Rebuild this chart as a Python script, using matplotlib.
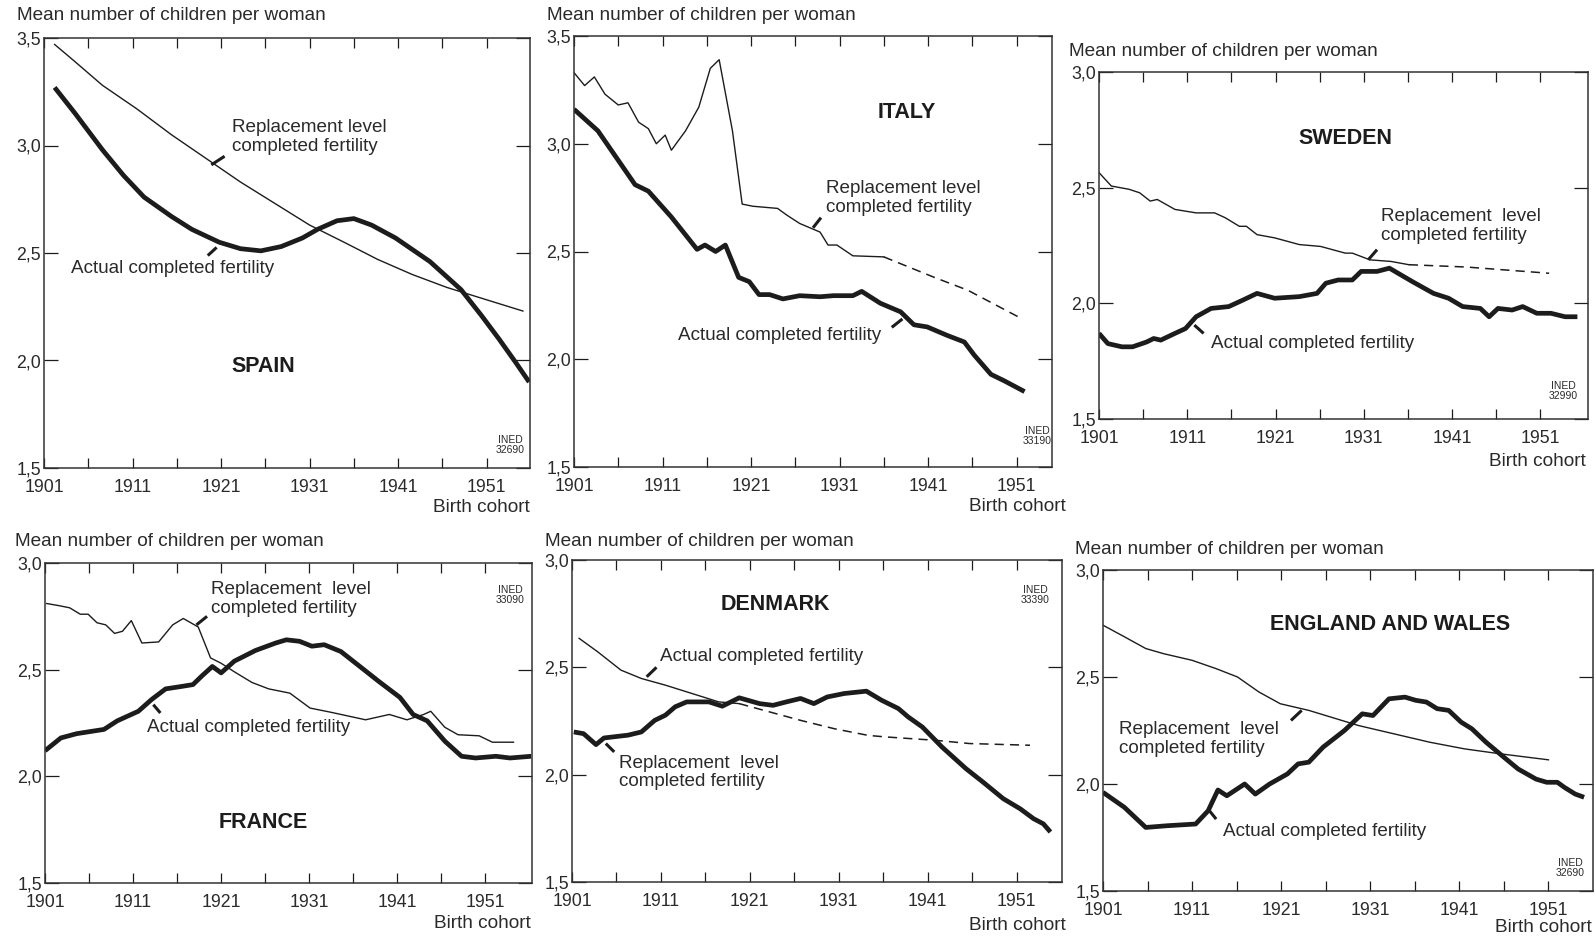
import matplotlib
matplotlib.use("Agg")
import matplotlib.pyplot as plt
from matplotlib.ticker import FixedLocator, FuncFormatter

plt.rcParams["font.family"] = ["Liberation Sans", "DejaVu Sans"]

W, H = 1596, 940
INK = "#1c1c1c"
TXT = "#2a2a2a"

# ---------- data (cohort year, children per woman) ----------

spain_repl_x = [1902.2, 1904.5, 1907.6, 1911.5, 1915.4, 1919.3, 1923.2, 1927.1,
                1931.0, 1934.9, 1938.7, 1942.6, 1946.5, 1950.4, 1955.1]
spain_repl_y = [3.47, 3.39, 3.28, 3.17, 3.05, 2.94, 2.83, 2.73,
                2.63, 2.55, 2.47, 2.40, 2.34, 2.29, 2.23]
spain_act_x = [1902.2, 1904.5, 1907.6, 1910.0, 1912.3, 1915.4, 1917.7, 1920.8,
               1923.2, 1925.5, 1927.8, 1930.2, 1931.9, 1934.1, 1936.0, 1938.0,
               1940.7, 1944.6, 1948.1, 1950.4, 1952.4, 1954.3, 1955.8]
spain_act_y = [3.27, 3.15, 2.98, 2.86, 2.76, 2.67, 2.61, 2.55,
               2.52, 2.51, 2.53, 2.57, 2.61, 2.65, 2.66, 2.63,
               2.57, 2.46, 2.33, 2.21, 2.10, 1.99, 1.90]

italy_repl_x = [1901.0, 1902.2, 1903.3, 1904.5, 1906.0, 1907.1, 1908.3, 1909.4,
                1910.3, 1911.3, 1912.0, 1913.6, 1915.1, 1916.4, 1917.4, 1918.9,
                1920.0, 1921.2, 1924.0, 1925.0, 1926.5, 1928.8, 1929.7, 1930.7,
                1932.5, 1936.0]
italy_repl_y = [3.33, 3.27, 3.31, 3.23, 3.18, 3.19, 3.10, 3.07,
                3.00, 3.04, 2.97, 3.06, 3.17, 3.35, 3.39, 3.06,
                2.72, 2.71, 2.70, 2.67, 2.63, 2.59, 2.53, 2.53,
                2.48, 2.475]
italy_proj_x = [1936.0, 1941.7, 1945.5, 1951.5]
italy_proj_y = [2.475, 2.38, 2.32, 2.19]
italy_act_x = [1901.0, 1903.7, 1907.9, 1909.4, 1912.0, 1914.9, 1915.8, 1917.0,
               1918.1, 1919.6, 1920.8, 1921.9, 1923.1, 1924.6, 1926.5, 1928.8,
               1930.3, 1932.5, 1933.5, 1935.6, 1937.9, 1939.4, 1940.9, 1943.2,
               1945.1, 1946.2, 1948.1, 1949.6, 1951.9]
italy_act_y = [3.16, 3.06, 2.81, 2.78, 2.66, 2.51, 2.53, 2.50,
               2.53, 2.38, 2.36, 2.30, 2.30, 2.28, 2.295, 2.29,
               2.295, 2.295, 2.315, 2.26, 2.22, 2.16, 2.15, 2.11,
               2.08, 2.02, 1.93, 1.90, 1.85]

sweden_repl_x = [1901.0, 1902.4, 1904.4, 1905.6, 1906.8, 1907.6, 1909.6, 1912.0,
                 1914.1, 1915.3, 1916.9, 1917.7, 1918.9, 1920.9, 1923.7, 1926.1,
                 1928.9, 1929.7, 1931.7, 1934.1, 1936.1]
sweden_repl_y = [2.565, 2.507, 2.493, 2.478, 2.442, 2.449, 2.406, 2.391,
                 2.391, 2.37, 2.333, 2.333, 2.297, 2.283, 2.254, 2.246,
                 2.217, 2.217, 2.188, 2.181, 2.167]
sweden_proj_x = [1936.1, 1942.6, 1952.0]
sweden_proj_y = [2.167, 2.157, 2.13]
sweden_act_x = [1901.0, 1902.0, 1903.6, 1904.8, 1906.4, 1907.2, 1908.0, 1909.6,
                1910.8, 1912.0, 1913.7, 1915.7, 1917.3, 1918.9, 1920.9, 1923.7,
                1925.7, 1926.7, 1928.1, 1929.7, 1930.7, 1932.5, 1933.9, 1936.5,
                1938.9, 1940.6, 1942.2, 1944.2, 1945.2, 1946.2, 1947.8, 1949.0,
                1950.6, 1952.2, 1953.8, 1955.2]
sweden_act_y = [1.870, 1.826, 1.812, 1.812, 1.833, 1.848, 1.841, 1.870,
                1.891, 1.942, 1.978, 1.986, 2.014, 2.043, 2.022, 2.029,
                2.043, 2.087, 2.101, 2.101, 2.138, 2.138, 2.152, 2.094,
                2.043, 2.022, 1.986, 1.978, 1.942, 1.978, 1.971, 1.986,
                1.957, 1.957, 1.942, 1.942]

france_repl_x = [1901.2, 1902.6, 1903.8, 1905.0, 1905.9, 1906.9, 1907.9, 1908.9,
                 1909.8, 1910.8, 1912.0, 1913.9, 1915.5, 1916.7, 1918.4, 1919.8,
                 1921.0, 1922.5, 1924.5, 1926.4, 1928.8, 1931.1, 1933.5, 1937.4,
                 1940.1, 1942.1, 1944.0, 1944.8, 1946.4, 1947.9, 1950.3, 1951.8,
                 1954.2]
france_repl_y = [2.81, 2.80, 2.79, 2.76, 2.76, 2.72, 2.71, 2.67,
                 2.68, 2.73, 2.625, 2.63, 2.71, 2.74, 2.70, 2.555,
                 2.53, 2.49, 2.44, 2.41, 2.39, 2.32, 2.30, 2.265,
                 2.29, 2.265, 2.29, 2.305, 2.23, 2.195, 2.19, 2.16,
                 2.16]
france_act_x = [1901.0, 1902.8, 1904.6, 1907.7, 1909.2, 1911.6, 1913.1, 1914.7,
                1916.3, 1917.8, 1918.8, 1920.0, 1921.0, 1922.5, 1924.9, 1927.2,
                1928.4, 1929.9, 1931.3, 1932.7, 1934.6, 1936.6, 1938.9, 1941.3,
                1942.8, 1944.4, 1946.4, 1948.3, 1949.9, 1952.2, 1953.8, 1956.2]
france_act_y = [2.12, 2.18, 2.20, 2.22, 2.26, 2.305, 2.36, 2.41,
                2.42, 2.43, 2.47, 2.515, 2.485, 2.54, 2.59, 2.625,
                2.64, 2.633, 2.61, 2.617, 2.585, 2.52, 2.445, 2.37,
                2.29, 2.26, 2.165, 2.094, 2.086, 2.094, 2.086, 2.094]

denmark_repl_x = [1901.8, 1903.9, 1906.5, 1908.8, 1911.5, 1914.5, 1917.5, 1919.8]
denmark_repl_y = [2.635, 2.572, 2.487, 2.448, 2.417, 2.378, 2.339, 2.331]
denmark_proj_x = [1919.8, 1926.7, 1930.5, 1934.3, 1936.2, 1941.9, 1945.7, 1952.5]
denmark_proj_y = [2.331, 2.253, 2.214, 2.183, 2.176, 2.160, 2.145, 2.137]
denmark_act_x = [1901.2, 1902.3, 1903.7, 1904.6, 1907.3, 1908.8, 1910.3, 1911.5,
                 1912.6, 1913.9, 1916.4, 1917.9, 1919.8, 1922.1, 1923.6, 1925.1,
                 1926.7, 1928.2, 1929.7, 1931.6, 1934.1, 1935.8, 1937.7, 1938.8,
                 1940.4, 1942.6, 1945.3, 1947.2, 1949.5, 1951.4, 1952.9, 1954.0,
                 1954.8]
denmark_act_y = [2.199, 2.191, 2.14, 2.171, 2.184, 2.199, 2.253, 2.277,
                 2.316, 2.339, 2.339, 2.319, 2.358, 2.331, 2.323, 2.339,
                 2.355, 2.331, 2.362, 2.378, 2.389, 2.347, 2.308, 2.269,
                 2.222, 2.129, 2.028, 1.966, 1.888, 1.841, 1.795, 1.771,
                 1.733]

england_repl_x = [1901.0, 1903.4, 1905.8, 1907.8, 1911.0, 1913.7, 1916.1, 1918.5,
                  1920.9, 1924.1, 1929.7, 1933.7, 1937.7, 1941.6, 1945.6, 1951.0]
england_repl_y = [2.742, 2.688, 2.633, 2.609, 2.578, 2.539, 2.50, 2.430,
                  2.375, 2.344, 2.273, 2.234, 2.195, 2.164, 2.141, 2.113]
england_act_x = [1901.0, 1903.4, 1905.8, 1908.2, 1911.4, 1912.8, 1913.9, 1914.9,
                 1916.9, 1918.1, 1919.7, 1921.7, 1922.9, 1924.1, 1925.7, 1928.1,
                 1930.1, 1931.3, 1933.1, 1934.9, 1936.1, 1937.3, 1938.5, 1939.8,
                 1941.2, 1942.4, 1944.0, 1946.0, 1947.6, 1949.6, 1950.8, 1952.0,
                 1952.8, 1954.0, 1955.0]
england_act_y = [1.961, 1.891, 1.797, 1.805, 1.813, 1.875, 1.972, 1.945,
                 2.0, 1.953, 2.0, 2.047, 2.094, 2.102, 2.172, 2.25,
                 2.328, 2.320, 2.398, 2.406, 2.391, 2.383, 2.352, 2.344,
                 2.289, 2.258, 2.195, 2.125, 2.070, 2.023, 2.008, 2.008,
                 1.984, 1.953, 1.938]

REPL = "Replacement level\ncompleted fertility"
REPL2 = "Replacement  level\ncompleted fertility"
ACT = "Actual completed fertility"

# ---------- panel layout (pixels: left, top, right, bottom) ----------

panels = [
    dict(name="SPAIN", box=(44, 38, 530, 468), xmax=1955.9, ymax=3.5,
         repl=(spain_repl_x, spain_repl_y), proj=None,
         act=(spain_act_x, spain_act_y), code="INED\n32690",
         ylab=(17, 15), title=(263, 367), ined=(510, 445), cohort=(530, 507),
         notes=[(REPL, (1922.2, 3.04), (1919.9, 2.91), (1921.4, 2.95)),
                (ACT, (1904.1, 2.43), (1920.5, 2.526), (1919.5, 2.488))]),
    dict(name="ITALY", box=(574, 36, 1052, 467), xmax=1955.0, ymax=3.5,
         repl=(italy_repl_x, italy_repl_y), proj=(italy_proj_x, italy_proj_y),
         act=(italy_act_x, italy_act_y), code="INED\n33190",
         ylab=(547, 15), title=(907, 113), ined=(1037, 436), cohort=(1066, 506),
         notes=[(REPL, (1929.5, 2.75), (1928.0, 2.61), (1928.9, 2.657)),
                (ACT, (1912.8, 2.11), (1938.1, 2.187), (1936.9, 2.148))]),
    dict(name="SWEDEN", box=(1099, 72, 1588, 419), xmax=1956.4, ymax=3.0,
         repl=(sweden_repl_x, sweden_repl_y), proj=(sweden_proj_x, sweden_proj_y),
         act=(sweden_act_x, sweden_act_y), code="INED\n32990",
         ylab=(1069, 52), title=(1345, 138), ined=(1563, 391), cohort=(1586, 462),
         notes=[(REPL2, (1932.9, 2.336), (1931.5, 2.188), (1932.5, 2.232)),
                (ACT, (1913.65, 1.826), (1911.8, 1.906), (1912.85, 1.87))]),
    dict(name="FRANCE", box=(45, 563, 532, 883), xmax=1956.3, ymax=3.0,
         repl=(france_repl_x, france_repl_y), proj=None,
         act=(france_act_x, france_act_y), code="INED\n33090",
         ylab=(15, 541), title=(263, 822), ined=(510, 595), cohort=(531, 923),
         notes=[(REPL2, (1919.8, 2.833), (1918.2, 2.71), (1919.4, 2.75)),
                (ACT, (1912.6, 2.231), (1913.3, 2.336), (1914.1, 2.297))]),
    dict(name="DENMARK", box=(572, 560, 1062, 882), xmax=1956.1, ymax=3.0,
         repl=(denmark_repl_x, denmark_repl_y), proj=(denmark_proj_x, denmark_proj_y),
         act=(denmark_act_x, denmark_act_y), code="INED\n33390",
         ylab=(545, 541), title=(775, 605), ined=(1035, 595), cohort=(1066, 925),
         notes=[(ACT, (1910.9, 2.549), (1909.4, 2.456), (1910.5, 2.50)),
                (REPL2, (1906.3, 2.01), (1904.8, 2.145), (1905.75, 2.106))]),
    dict(name="ENGLAND AND WALES", box=(1103, 570, 1593, 891), xmax=1956.0, ymax=3.0,
         repl=(england_repl_x, england_repl_y), proj=None,
         act=(england_act_x, england_act_y), code="INED\n32690",
         ylab=(1075, 550), title=(1390, 625), ined=(1570, 868), cohort=(1592, 928),
         notes=[(REPL2, (1902.8, 2.21), (1923.3, 2.344), (1922.1, 2.297)),
                (ACT, (1914.5, 1.78), (1912.95, 1.875), (1913.7, 1.836))]),
]


def fx(x):
    return x / W


def fy(y):
    return 1 - y / H


fig = plt.figure(figsize=(W / 100, H / 100), dpi=100)

for p in panels:
    l, t, r, b = p["box"]
    ax = fig.add_axes([fx(l), fy(b), (r - l) / W, (b - t) / H])
    ax.set_xlim(1901, p["xmax"])
    ax.set_ylim(1.5, p["ymax"])

    ax.plot(*p["repl"], color=INK, lw=1.0, solid_joinstyle="round")
    if p["proj"] is not None:
        ax.plot(*p["proj"], color=INK, lw=1.1, ls=(0, (6, 4)))
    ax.plot(*p["act"], color=INK, lw=3.4, solid_joinstyle="round",
            solid_capstyle="butt")

    # labels with their little pointer strokes
    for label, xy_text, p0, p1 in p["notes"]:
        ax.text(xy_text[0], xy_text[1], label, ha="left", va="center",
                fontsize=13.6, color=TXT, linespacing=1.15)
        ax.plot([p0[0], p1[0]], [p0[1], p1[1]], color=INK, lw=2.2,
                solid_capstyle="butt")

    ax.xaxis.set_major_locator(FixedLocator([1901, 1911, 1921, 1931, 1941, 1951]))
    ax.xaxis.set_minor_locator(FixedLocator([1906, 1916, 1926, 1936, 1946]))
    yt = [1.5, 2.0, 2.5, 3.0] + ([3.5] if p["ymax"] > 3.2 else [])
    ax.yaxis.set_major_locator(FixedLocator(yt))
    ax.yaxis.set_major_formatter(FuncFormatter(lambda v, pos: f"{v:.1f}".replace(".", ",")))
    ax.tick_params(axis="x", which="both", direction="in", top=True, length=7.5,
                   width=0.9, color=INK, labelsize=12.8, labelcolor=TXT, pad=8)
    ax.tick_params(axis="y", which="both", direction="in", right=True, length=10,
                   width=0.9, color=INK, labelsize=12.8, labelcolor=TXT, pad=2)
    for s in ax.spines.values():
        s.set_linewidth(1.1)
        s.set_color("#333333")

    fig.text(fx(p["ylab"][0]), fy(p["ylab"][1]), "Mean number of children per woman",
             ha="left", va="center", fontsize=13.7, color=TXT)
    fig.text(fx(p["title"][0]), fy(p["title"][1]), p["name"], ha="center",
             va="center", fontsize=15.5, fontweight="bold", color=INK)
    fig.text(fx(p["ined"][0]), fy(p["ined"][1]), p["code"], ha="center",
             va="center", fontsize=7.5, color=TXT, linespacing=1.1)
    fig.text(fx(p["cohort"][0]), fy(p["cohort"][1]), "Birth cohort", ha="right",
             va="center", fontsize=13.7, color=TXT)

fig.savefig("out.png", dpi=100, facecolor="white")
